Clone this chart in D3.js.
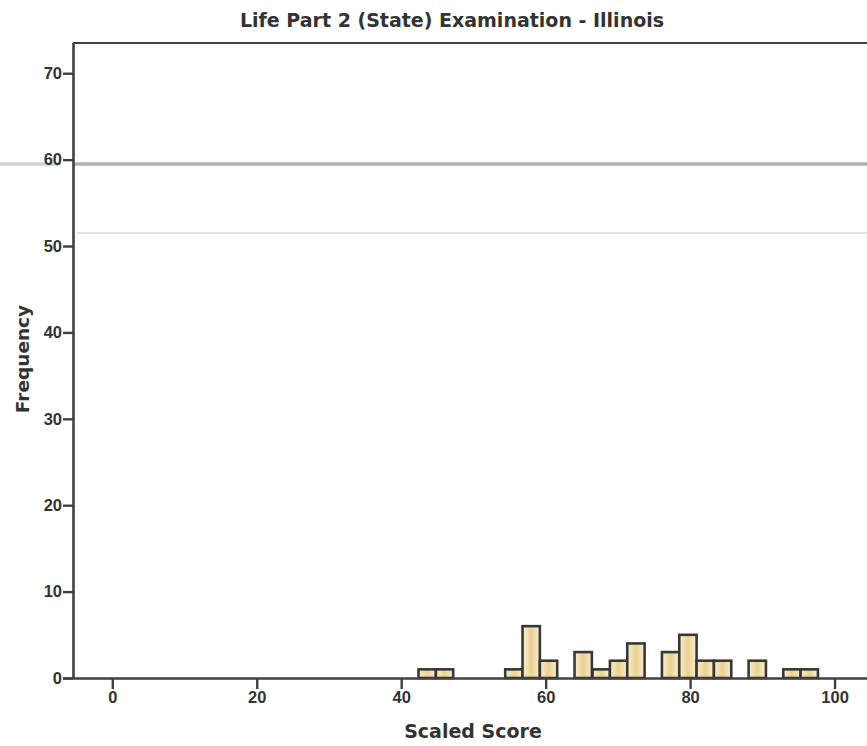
<!DOCTYPE html>
<html><head><meta charset="utf-8">
<script src="https://cdn.jsdelivr.net/npm/d3@7"></script>
<style>
html,body{margin:0;padding:0;background:#fff;}
svg{display:block;}
text{font-family:"Liberation Sans",Arial,sans-serif;font-weight:bold;fill:#333;}
.ttl{font-family:"DejaVu Sans",sans-serif;font-weight:bold;fill:#333;}
</style></head>
<body><svg id="chart" width="867" height="746"></svg>
<script>
// ---- data ----
const title = "Life Part 2 (State) Examination - Illinois";
const xLabel = "Scaled Score";
const yLabel = "Frequency";
const binStarts = [42.4, 44.8, 54.4, 56.8, 59.2, 64.0, 66.5, 68.9, 71.3, 76.1, 78.5, 80.9, 83.3, 88.1, 92.9, 95.3];
const binWidth = 2.4;
const counts    = [1, 1, 1, 6, 2, 3, 1, 2, 4, 3, 5, 2, 2, 2, 1, 1];
const xTicks = [0, 20, 40, 60, 80, 100];
const yTicks = [0, 10, 20, 30, 40, 50, 60, 70];
const refLines = [59.5, 51.5];

// ---- layout ----
const svg = d3.select("#chart");
const L = 73, R = 875, T = 43, B = 678;
const x = d3.scaleLinear().domain([-5.44, 105.6]).range([L, R]);
const y = d3.scaleLinear().domain([0, 73.5]).range([B, T]);

const defs = svg.append("defs");
const g = defs.append("linearGradient").attr("id","barFill").attr("x1","0").attr("x2","1").attr("y1","0").attr("y2","0");
g.append("stop").attr("offset","0%").attr("stop-color","#f8efcf");
g.append("stop").attr("offset","50%").attr("stop-color","#ebd192");
g.append("stop").attr("offset","100%").attr("stop-color","#f8efcf");

// faint horizontal lines
svg.append("line").attr("x1",0).attr("x2",L-12).attr("y1",y(refLines[0])).attr("y2",y(refLines[0]))
  .attr("stroke","#d2d2d4").attr("stroke-width",3.5);
svg.append("line").attr("x1",L).attr("x2",867).attr("y1",y(refLines[0])).attr("y2",y(refLines[0]))
  .attr("stroke","#bcadb1").attr("stroke-width",3.5);
svg.append("line").attr("x1",L+4).attr("x2",867).attr("y1",y(refLines[1])).attr("y2",y(refLines[1]))
  .attr("stroke","#d6d6d6").attr("stroke-width",1.5);

// bars
svg.append("g").selectAll("rect").data(binStarts).join("rect")
  .attr("x", (d)=>x(d))
  .attr("width", (d)=>x(d+binWidth)-x(d))
  .attr("y", (d,i)=>y(counts[i]))
  .attr("height", (d,i)=>B-y(counts[i]))
  .attr("fill","url(#barFill)")
  .attr("stroke","#383838").attr("stroke-width",2.6);

// frame / axes
svg.append("line").attr("x1",L).attr("x2",867).attr("y1",T).attr("y2",T).attr("stroke","#404040").attr("stroke-width",2.2);

const xAxis = d3.axisBottom(x).tickValues(xTicks).tickSize(11).tickSizeOuter(0).tickFormat(d3.format("d"));
const xg = svg.append("g").attr("transform",`translate(0,${B})`).call(xAxis);
xg.select(".domain").attr("stroke","#404040").attr("stroke-width",2.6).attr("d",`M${L-10},0.5H867`);
xg.selectAll(".tick line").attr("stroke","#404040").attr("stroke-width",2.4);
xg.selectAll(".tick text").attr("dy",0).attr("y",25).style("font-size","16.5px").style("font-family","'Liberation Sans',Arial,sans-serif").style("font-weight","bold").attr("fill","#333");

const yAxis = d3.axisLeft(y).tickValues(yTicks).tickSize(10).tickSizeOuter(0).tickFormat(d3.format("d"));
const yg = svg.append("g").attr("transform",`translate(${L},0)`).call(yAxis);
yg.select(".domain").attr("stroke","#404040").attr("stroke-width",2.6).attr("d",`M0.5,${T}V${B}`);
yg.selectAll(".tick line").attr("stroke","#404040").attr("stroke-width",2.4);
yg.selectAll(".tick text").attr("x",-11).style("font-size","16.5px").style("font-family","'Liberation Sans',Arial,sans-serif").style("font-weight","bold").attr("fill","#333");

// titles
svg.append("text").attr("class","ttl").attr("x",452).attr("y",27).attr("text-anchor","middle")
  .style("font-size","19px").text(title);
svg.append("text").attr("class","ttl").attr("x",473).attr("y",738).attr("text-anchor","middle")
  .style("font-size","19px").text(xLabel);
svg.append("text").attr("class","ttl").attr("transform","translate(29,359) rotate(-90)").attr("text-anchor","middle")
  .style("font-size","18.5px").text(yLabel);
</script></body></html>
